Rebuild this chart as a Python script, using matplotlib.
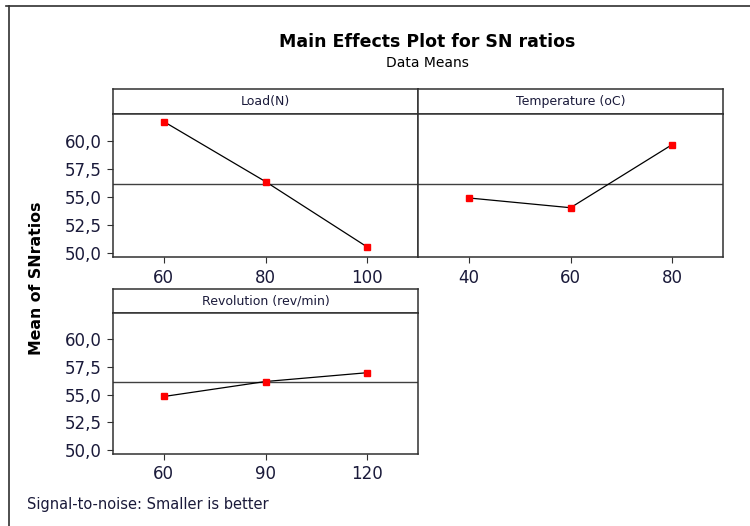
import matplotlib
matplotlib.use("Agg")
import matplotlib.pyplot as plt
from matplotlib.lines import Line2D
from matplotlib.ticker import FuncFormatter
import numpy as np

# ── data ──────────────────────────────────────────────────────────────────────
factors = ["Load(N)", "Temperature (oC)", "Revolution (rev/min)"]
load_levels = ["60", "80", "100"]
temp_levels = ["40", "60", "80"]
rev_levels = ["60", "90", "120"]
load_sn = [61.72, 56.37, 50.54]
temp_sn = [54.91, 54.04, 59.67]
rev_sn = [54.82, 56.18, 56.98]
y_ticks = [50.0, 52.5, 55.0, 57.5, 60.0]

levels = [load_levels, temp_levels, rev_levels]
means = [load_sn, temp_sn, rev_sn]
grand_mean = np.mean(load_sn + temp_sn + rev_sn)

EDGE = "#303030"
TXT = "#1a1a3a"
W, H = 750, 526

fig = plt.figure(figsize=(7.5, 5.26), dpi=100, facecolor="white")

# outer frame (only top and left edges show in the screenshot)
fig.add_artist(Line2D([6 / W, 1.0], [1 - 6 / H, 1 - 6 / H], color=EDGE, lw=1.2,
                      transform=fig.transFigure))
fig.add_artist(Line2D([9 / W, 9 / W], [0.0, 1 - 6 / H], color=EDGE, lw=1.2,
                      transform=fig.transFigure))

fig.text(427 / W, 1 - 42 / H, "Main Effects Plot for SN ratios", ha="center",
         va="center", fontsize=12.5, fontweight="bold")
fig.text(427 / W, 1 - 63 / H, "Data Means", ha="center", va="center", fontsize=10)
fig.text(37 / W, 1 - 278 / H, "Mean of SNratios", ha="center", va="center",
         rotation=90, fontsize=11.3, fontweight="bold")
fig.text(27 / W, 1 - 505 / H, "Signal-to-noise: Smaller is better", ha="left",
         va="center", fontsize=10.5, color=TXT)

# pixel boxes: (left, right, header_top, plot_top, plot_bottom)
boxes = [(113, 418, 89, 114, 257.5),
         (418, 723, 89, 114, 257.5),
         (113, 418, 289, 313, 454)]


def _style(ax):
    for s in ax.spines.values():
        s.set_color(EDGE)
        s.set_linewidth(1.1)


fmt = FuncFormatter(lambda v, p: f"{v:.1f}".replace(".", ","))

for i, (l, r, ht, pt, pb) in enumerate(boxes):
    # header strip
    hax = fig.add_axes([l / W, 1 - pt / H, (r - l) / W, (pt - ht) / H])
    hax.set_xticks([])
    hax.set_yticks([])
    _style(hax)
    hax.text(0.5, 0.5, factors[i], ha="center", va="center", fontsize=9,
             color=TXT, transform=hax.transAxes)

    ax = fig.add_axes([l / W, 1 - pb / H, (r - l) / W, (pb - pt) / H])
    _style(ax)
    x = np.arange(1, len(levels[i]) + 1)
    ax.axhline(grand_mean, color="#404040", lw=1.0, zorder=1)
    ax.plot(x, means[i], color="black", lw=0.9, zorder=2)
    ax.plot(x, means[i], "s", color="red", ms=4.5, mec="red", zorder=3)
    ax.set_xlim(0.5, 3.5)
    ax.set_ylim(49.6, 62.4)
    ax.set_xticks(x)
    ax.set_xticklabels(levels[i])
    ax.tick_params(axis="both", length=4, color=EDGE, labelsize=12,
                   labelcolor=TXT, pad=4)
    if i == 1:
        ax.set_yticks([])
    else:
        ax.set_yticks(y_ticks)
        ax.yaxis.set_major_formatter(fmt)

plt.savefig("out.png", dpi=100, facecolor="white")
